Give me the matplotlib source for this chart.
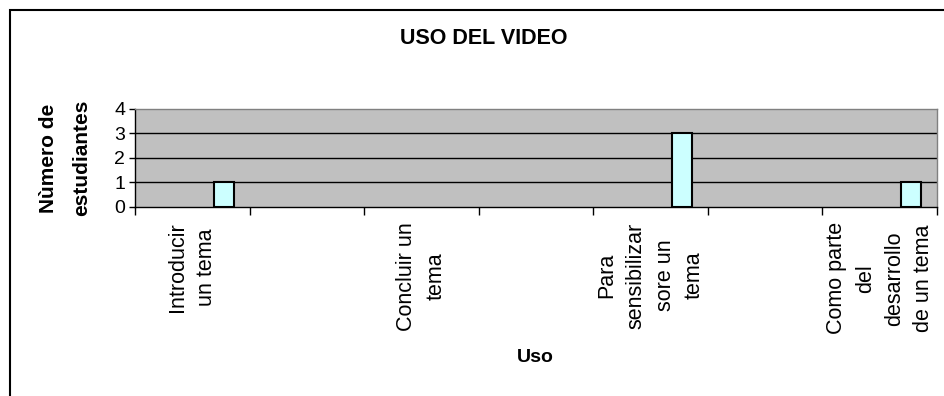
import numpy as np
import matplotlib
matplotlib.use("Agg")
import matplotlib.pyplot as plt
from matplotlib.patches import Rectangle

plt.rcParams['font.family'] = ['Liberation Sans', 'DejaVu Sans']

# -- data --
categories = ["Introducir\nun tema", "", "Concluir un\ntema", "",
              "Para\nsensibilizar\nsore un\ntema", "",
              "Como parte\ndel\ndesarrollo\nde un tema"]
students = [1, 0, 0, 0, 3, 0, 1]
y_ticks = [0, 1, 2, 3, 4]

# -- figure --
fig = plt.figure(figsize=(9.44, 3.96), dpi=100)
ax = fig.add_axes([0.143, 0.4773, 0.8496, 0.2475])
ax.set_facecolor('#C0C0C0')

x = np.arange(len(categories))
# bars sit right of the category centre (Excel clustered layout)
for xi, v in zip(x, students):
    if v > 0:
        ax.bar(xi + 0.775, v, width=0.175, color='#CCFFFF',
               edgecolor='black', linewidth=1.5, zorder=3)

ax.set_xlim(0, len(categories))
ax.set_ylim(0, 4)

# grid lines
for yv in y_ticks[1:-1]:
    ax.axhline(yv, color='black', linewidth=1, zorder=1)

ax.spines['top'].set_color('#808080')
ax.spines['right'].set_color('#808080')
ax.spines['left'].set_color('black')
ax.spines['bottom'].set_color('black')
for s in ax.spines.values():
    s.set_linewidth(1)

ax.set_yticks(y_ticks)
ax.set_yticklabels([str(v) for v in y_ticks], fontsize=14)
ax.tick_params(axis='y', length=4, width=1, pad=3)

ax.set_xticks(np.arange(len(categories) + 1))
ax.set_xticklabels([])
ax.tick_params(axis='x', which='major', length=6, width=1, direction='out')
ax.set_xticks(x + 0.5, minor=True)
ax.set_xticklabels(categories, minor=True, rotation=90, fontsize=15.5,
                   multialignment='center', linespacing=1.5)
ax.tick_params(axis='x', which='minor', length=0, pad=11)

# titles
fig.text(0.512, 0.902, "USO DEL VIDEO", ha='center', va='center',
         fontsize=15.5, fontweight='bold')
fig.text(0.567, 0.098, "Uso", ha='center', va='center',
         fontsize=14, fontweight='bold')
fig.text(0.069, 0.601, "Nùmero de\nestudiantes", ha='center', va='center',
         rotation=90, fontsize=15, fontweight='bold',
         multialignment='center', linespacing=1.9)

# chart frame (cut off at the right and bottom)
fig.patches.append(Rectangle((10 / 944, -0.2), 1.2, 1.2 - 10 / 396,
                             transform=fig.transFigure, fill=False,
                             edgecolor='black', linewidth=1.5))

fig.savefig('out.png', dpi=100)
